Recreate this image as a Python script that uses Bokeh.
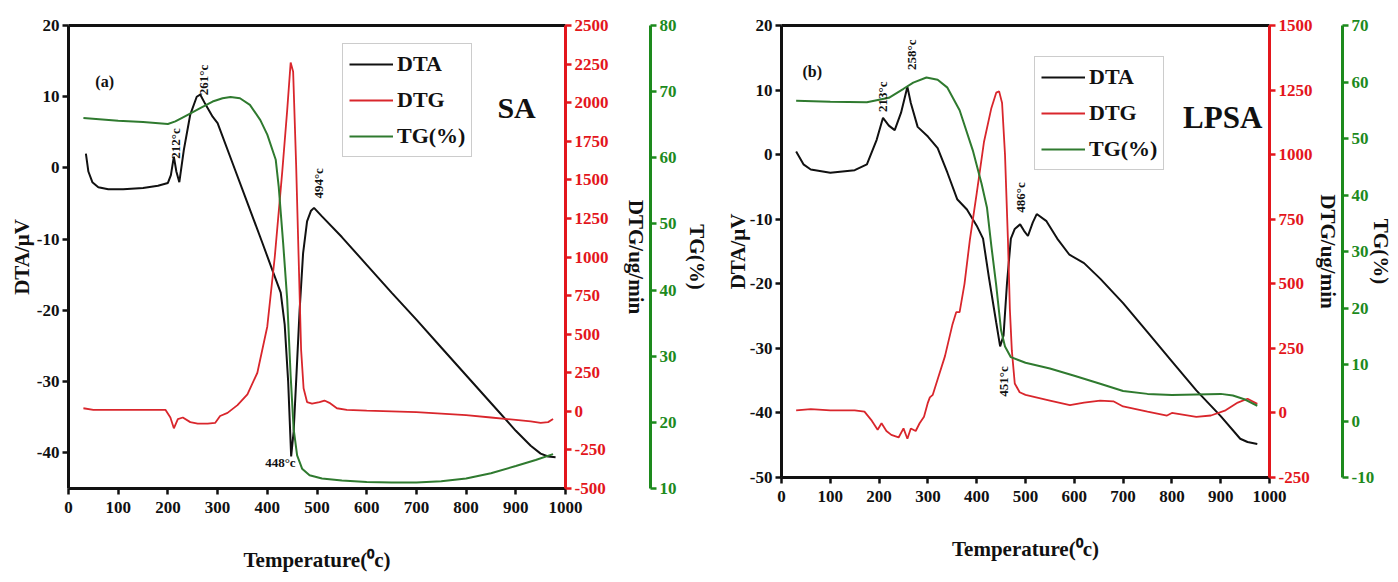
from bokeh.plotting import figure
from bokeh.models import Range1d, LinearAxis, FixedTicker, Label
from bokeh.layouts import row
from bokeh.embed import file_html
from bokeh.resources import INLINE

# ---------------- data: panel (a) SA ----------------
a_dta_T = [35, 40, 48, 60, 80, 110, 150, 180, 200, 206, 212, 217, 223, 232, 245, 258, 265, 275, 290, 300, 330, 360, 390, 410, 427, 435, 442, 448, 453, 458, 465, 472, 480, 488, 494, 510, 550, 600, 650, 700, 750, 800, 850, 900, 930, 950, 965, 980]
a_dta_v = [2.0, -0.5, -2.0, -2.7, -3.0, -3.0, -2.8, -2.5, -2.1, -1.0, 1.6, -0.5, -2.0, 2.5, 7.5, 10.0, 10.3, 9.0, 7.2, 6.3, 0.7, -4.9, -10.5, -14.3, -17.5, -22.0, -30.0, -40.5, -37.0, -30.0, -20.0, -12.0, -7.5, -6.0, -5.6, -6.8, -9.7, -13.6, -17.5, -21.3, -25.2, -29.1, -33.0, -36.9, -39.0, -40.1, -40.5, -40.6]

a_dtg_T = [30, 50, 100, 150, 195, 205, 212, 220, 230, 245, 260, 280, 295, 305, 320, 340, 360, 380, 400, 415, 430, 440, 447, 452, 458, 463, 468, 473, 480, 490, 505, 515, 525, 540, 560, 600, 650, 700, 750, 800, 850, 900, 930, 950, 965, 975]
a_dtg_v = [20, 10, 10, 10, 10, -40, -110, -50, -40, -70, -80, -80, -75, -30, -10, 40, 110, 250, 550, 1000, 1550, 1950, 2260, 2200, 1600, 1000, 400, 150, 60, 50, 60, 70, 55, 20, 10, 5, 0, -5, -15, -25, -40, -55, -65, -75, -70, -50]

a_tg_T = [30, 100, 150, 200, 215, 240, 265, 290, 310, 326, 345, 365, 386, 400, 417, 423, 432, 440, 447, 453, 460, 470, 485, 510, 550, 600, 650, 700, 750, 800, 850, 900, 940, 975]
a_tg_v = [66.0, 65.6, 65.4, 65.1, 65.5, 66.5, 67.5, 68.5, 69.0, 69.2, 69.0, 68.0, 65.7, 63.5, 59.7, 55.6, 47.0, 38.6, 27.0, 19.0, 15.0, 13.0, 12.0, 11.5, 11.2, 11.0, 10.9, 10.9, 11.1, 11.5, 12.3, 13.4, 14.3, 15.2]

# ---------------- data: panel (b) LPSA ----------------
b_dta_T = [30, 45, 60, 100, 150, 175, 195, 208, 220, 232, 245, 258, 265, 279, 300, 320, 340, 360, 380, 400, 413, 425, 440, 448, 455, 462, 470, 478, 489, 497, 505, 515, 523, 543, 565, 590, 620, 653, 700, 750, 800, 850, 900, 940, 955, 975]
b_dta_v = [0.5, -1.5, -2.3, -2.8, -2.4, -1.5, 2.3, 5.7, 4.5, 3.8, 6.5, 10.5, 8.0, 4.3, 2.8, 1.0, -2.8, -6.9, -8.5, -11.0, -13.0, -19.0, -26.0, -29.7, -28.0, -20.0, -13.0, -11.5, -10.8, -11.8, -12.6, -10.5, -9.2, -10.3, -13.0, -15.5, -16.8, -19.2, -23.0, -27.5, -32.0, -36.5, -40.5, -44.0, -44.5, -44.8]

b_dtg_T = [30, 60, 100, 150, 170, 185, 197, 205, 215, 225, 240, 250, 258, 265, 275, 283, 292, 300, 304, 310, 320, 335, 350, 358, 365, 375, 386, 400, 415, 430, 440, 446, 452, 458, 464, 468, 472, 478, 488, 500, 550, 591, 620, 653, 680, 700, 750, 790, 800, 850, 880, 910, 935, 955, 975]
b_dtg_v = [10, 15, 10, 10, 5, -30, -65, -40, -70, -85, -95, -60, -100, -60, -70, -40, -15, 40, 60, 70, 130, 220, 340, 390, 390, 500, 670, 850, 1050, 1180, 1240, 1245, 1200, 1000, 670, 400, 242, 114, 80, 70, 48, 30, 40, 48, 45, 25, 5, -10, 0, -15, -10, 10, 40, 55, 35]

b_tg_T = [30, 100, 175, 220, 250, 270, 297, 320, 340, 365, 392, 410, 421, 430, 440, 450, 458, 470, 500, 550, 600, 653, 700, 750, 800, 850, 900, 925, 950, 975]
b_tg_v = [56.7, 56.5, 56.4, 57.2, 58.8, 59.9, 60.8, 60.4, 59.0, 55.0, 47.9, 42.0, 37.8, 31.0, 24.0, 16.0, 13.2, 11.3, 10.3, 9.3, 8.0, 6.6, 5.3, 4.8, 4.6, 4.7, 4.8, 4.5, 3.8, 2.7]

x_ticks = [0, 100, 200, 300, 400, 500, 600, 700, 800, 900, 1000]
a_dta_ticks = [-40, -30, -20, -10, 0, 10, 20]
a_dtg_ticks = [-500, -250, 0, 250, 500, 750, 1000, 1250, 1500, 1750, 2000, 2250, 2500]
a_tg_ticks = [10, 20, 30, 40, 50, 60, 70, 80]
b_dta_ticks = [-50, -40, -30, -20, -10, 0, 10, 20]
b_dtg_ticks = [-250, 0, 250, 500, 750, 1000, 1250, 1500]
b_tg_ticks = [-10, 0, 10, 20, 30, 40, 50, 60, 70]

FONT = "Liberation Serif"
BLACK = "#111111"
RED_LINE = "#d9262c"
RED_AX = "#e3161c"
GREEN_LINE = "#2f7a2f"
GREEN_AX = "#1d8a1d"


def style_axis(ax, color, ticks, label_size="17px"):
    ax.ticker = FixedTicker(ticks=ticks)
    ax.major_label_overrides = {t: str(t) for t in ticks}
    ax.axis_line_color = color
    ax.axis_line_width = 3
    ax.major_tick_line_color = color
    ax.major_tick_line_width = 2.5
    ax.major_tick_out = 6
    ax.major_tick_in = 0
    ax.minor_tick_line_color = None
    ax.major_label_text_font = FONT
    ax.major_label_text_font_style = "bold"
    ax.major_label_text_font_size = label_size
    ax.major_label_text_color = color
    ax.major_label_standoff = 3
    ax.axis_label_text_font = FONT
    ax.axis_label_text_font_style = "bold"
    ax.axis_label_text_font_size = "21px"
    ax.axis_label_text_color = BLACK


def panel(width, height, border_left, border_right, dta_rng, dtg_rng, tg_rng,
          dta_ticks, dtg_ticks, tg_ticks, T1, v1, T2, v2, T3, v3,
          left_standoff, red_standoff, green_standoff, legend_loc):
    p = figure(width=width, height=height, output_backend="svg", toolbar_location=None,
               x_range=Range1d(0, 1000), y_range=Range1d(*dta_rng),
               min_border_left=border_left, min_border_right=border_right,
               min_border_top=25, min_border_bottom=94)
    p.outline_line_color = None
    p.grid.visible = False
    p.background_fill_color = "white"
    p.border_fill_color = "white"
    p.extra_y_ranges = {"dtg": Range1d(*dtg_rng), "tg": Range1d(*tg_rng)}

    p.line(T1, v1, color=BLACK, line_width=2, legend_label="DTA")
    p.line(T2, v2, color=RED_LINE, line_width=1.8, y_range_name="dtg", legend_label="DTG")
    p.line(T3, v3, color=GREEN_LINE, line_width=2, y_range_name="tg", legend_label="TG(%)")

    xa = p.xaxis[0]
    style_axis(xa, BLACK, x_ticks)
    xa.major_label_standoff = 7
    xa.axis_label = "Temperature(⁰c)"
    xa.axis_label_standoff = 32

    ya = p.yaxis[0]
    style_axis(ya, BLACK, dta_ticks)
    ya.axis_label = "DTA/μV"
    ya.axis_label_standoff = left_standoff

    top = LinearAxis(major_label_text_font_size="0px", major_tick_line_color=None,
                     minor_tick_line_color=None, axis_line_width=3, axis_line_color=BLACK,
                     ticker=FixedTicker(ticks=[]))
    p.add_layout(top, "above")

    ra = LinearAxis(y_range_name="dtg", axis_label="DTG/ug/min")
    style_axis(ra, RED_AX, dtg_ticks)
    ra.axis_label_standoff = red_standoff
    p.add_layout(ra, "right")

    ga = LinearAxis(y_range_name="tg", axis_label="TG(%)")
    style_axis(ga, GREEN_AX, tg_ticks)
    ga.axis_label_standoff = green_standoff
    p.add_layout(ga, "right")

    lg = p.legend[0]
    lg.location = legend_loc
    lg.label_text_font = FONT
    lg.label_text_font_style = "bold"
    lg.label_text_font_size = "22px"
    lg.label_text_color = BLACK
    lg.glyph_width = 44
    lg.glyph_height = 28
    lg.label_height = 28
    lg.label_standoff = 4
    lg.spacing = 8
    lg.padding = 6
    lg.margin = 0
    lg.border_line_color = "#9a9a9a"
    lg.border_line_width = 1.2
    lg.background_fill_alpha = 1
    return p


def note(p, x, y, text, angle=1.5708, size="13px", align="left"):
    p.add_layout(Label(x=x, y=y, text=text, angle=angle, text_font=FONT,
                       text_font_style="bold", text_font_size=size, text_color=BLACK,
                       text_align=align, text_baseline="middle"))


pa = panel(715, 582, 68, 150, (-45, 20), (-500, 2500), (10, 80),
           a_dta_ticks, a_dtg_ticks, a_tg_ticks,
           a_dta_T, a_dta_v, a_dtg_T, a_dtg_v, a_tg_T, a_tg_v,
           0, 12, 5, (274, 331))
note(pa, 54, 12.2, "(a)", angle=0, size="16px")
note(pa, 863, 8.5, "SA", angle=0, size="30px")
note(pa, 215, 1.3, "212°c")
note(pa, 272, 10.2, "261°c")
note(pa, 503, -4.3, "494°c")
note(pa, 457, -41.3, "448°c", angle=0, align="right")

pb = panel(683, 571, 66, 129, (-50, 20), (-250, 1500), (-10, 70),
           b_dta_ticks, b_dtg_ticks, b_tg_ticks,
           b_dta_T, b_dta_v, b_dtg_T, b_dtg_v, b_tg_T, b_tg_v,
           -3, 0, -8, (253, 307))
note(pb, 43, 12.8, "(b)", angle=0, size="16px")
note(pb, 823, 5.8, "LPSA", angle=0, size="31px")
note(pb, 207, 6.6, "213°c")
note(pb, 267, 13.1, "258°c")
note(pb, 489, -9.0, "486°c")
note(pb, 454, -37.5, "451°c")

layout = row(pa, pb)
open("out.html", "w").write(file_html(layout, INLINE))
